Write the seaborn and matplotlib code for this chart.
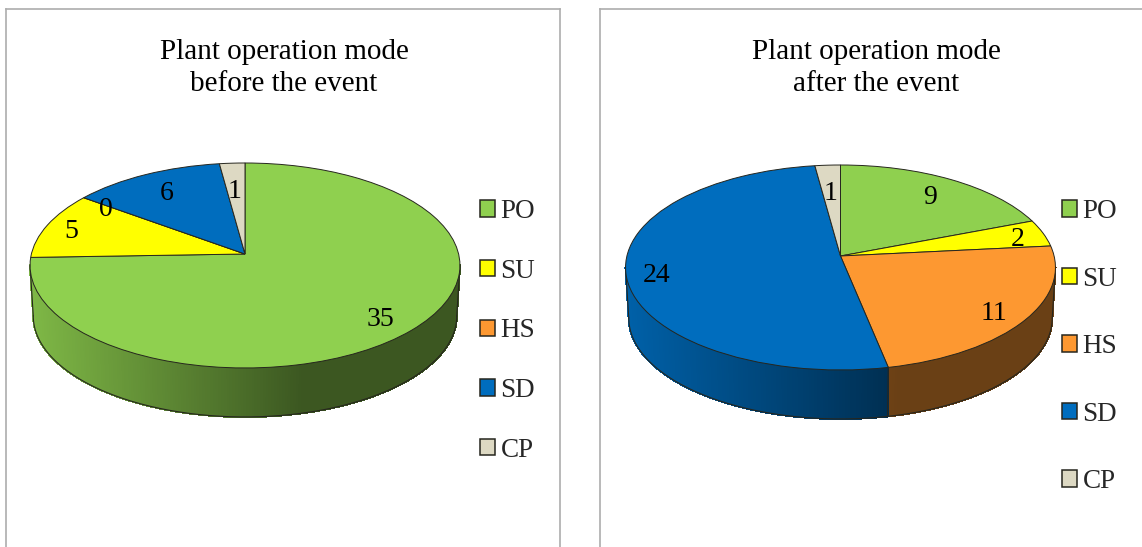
import numpy as np
import matplotlib
matplotlib.use("Agg")
import matplotlib.pyplot as plt
import matplotlib.transforms as mtransforms
from matplotlib.collections import PolyCollection
import seaborn as sns

modes = ["PO", "SU", "HS", "SD", "CP"]
before_event = [35, 5, 0, 6, 1]
after_event = [9, 2, 11, 24, 1]
title_before = "Plant operation mode\nbefore the event"
title_after = "Plant operation mode\nafter the event"
mode_hex = ["#8FD04F", "#FFFF00", "#FD9831", "#006DBE", "#DDD9C3"]

# Layout in pixels
FIG_W, FIG_H = 1142, 547
SCALE_X, SCALE_Y, TILT = 213.6, 101.2, 0.112
WALL_SHRINK, WALL_DROP = 0.985, 50.7
EDGE = "#26261E"
FRAME = "#ADADAD"
SERIF = "Liberation Serif"

sns.set_theme(style="white", rc={"font.family": SERIF})
palette = sns.color_palette(mode_hex)


class TiltedDisc(mtransforms.Transform):
    """Perspective view of a unit disc lying on a table."""
    input_dims = 2
    output_dims = 2

    def transform_non_affine(self, xy):
        xy = np.asarray(xy, dtype=float)
        w = 1 + TILT * xy[:, 1]
        return np.column_stack((SCALE_X * xy[:, 0] / w, SCALE_Y * xy[:, 1] / w))


def rim(phi):
    """Rim point of the top face, phi in degrees clockwise from twelve o'clock."""
    r = np.radians(phi)
    w = 1 + TILT * np.cos(r)
    return SCALE_X * np.sin(r) / w, SCALE_Y * np.cos(r) / w


def shade(x):
    t = (x + SCALE_X) / (2 * SCALE_X)
    return 0.88 - 0.46 * min(t / 0.63, 1.0)


def draw_wall(ax, values):
    """Extrude the front half of the pie, darkening towards the right."""
    left, right = 96.4, 263.6
    edges = np.cumsum([0] + list(values)) / sum(values) * 360
    polys, faces = [], []
    for i, colour in enumerate(palette):
        a, b = max(edges[i], left), min(edges[i + 1], right)
        if b <= a:
            continue
        phis = np.linspace(a, b, max(int((b - a) * 1.5), 2) + 1)
        for p0, p1 in zip(phis[:-1], phis[1:]):
            x0, y0 = rim(p0)
            x1, y1 = rim(p1)
            polys.append([(x0, y0), (x1, y1),
                          (x1 * WALL_SHRINK, y1 * WALL_SHRINK - WALL_DROP),
                          (x0 * WALL_SHRINK, y0 * WALL_SHRINK - WALL_DROP)])
            f = shade((x0 + x1) / 2)
            faces.append(tuple(c * f for c in colour))
    ax.add_collection(PolyCollection(polys, facecolors=faces, edgecolors=faces,
                                     linewidths=0.8, antialiaseds=False, zorder=1))
    phis = np.linspace(left, right, 200)
    x, y = rim(phis)
    ax.plot(x * WALL_SHRINK, y * WALL_SHRINK - WALL_DROP, color=EDGE, lw=0.8, zorder=2)
    cuts = [left, right] + [e for e in edges[1:-1] if left < e < right]
    for phi in cuts:
        x, y = rim(phi)
        ax.plot([x, x * WALL_SHRINK], [y, y * WALL_SHRINK - WALL_DROP],
                color=EDGE, lw=0.8, zorder=2)


def panel(box, apex, values, title, title_x, label_xy, legend_xy, legend_gap):
    l, t, r, b = box
    cx, cy = apex
    ax = plt.gcf().add_axes([l / FIG_W, 1 - b / FIG_H, (r - l) / FIG_W, (b - t) / FIG_H])
    wedges, _ = ax.pie(values, colors=palette, startangle=90, counterclock=False,
                       wedgeprops={"edgecolor": EDGE, "linewidth": 0.7, "zorder": 3})
    disc = TiltedDisc()
    for w in wedges:
        w.set_transform(disc + ax.transData)
    ax.set_frame_on(True)
    ax.set_aspect("auto")
    ax.set_xlim(l - cx, r - cx)
    ax.set_ylim(cy - b, cy - t)
    for s in ax.spines.values():
        s.set_color(FRAME)
        s.set_linewidth(1.2)

    draw_wall(ax, values)

    for v, (dx, dy) in zip(values, label_xy):
        ax.text(dx, dy, str(v), ha="center", va="center", fontsize=20,
                family=SERIF, color="black", zorder=5)

    ax.text(title_x - cx, cy - 68, title, ha="center", va="center", fontsize=21,
            family=SERIF, color="black", linespacing=1.31)

    legend = ax.legend(wedges, modes, loc="upper left",
                       bbox_to_anchor=(legend_xy[0] - cx, cy - legend_xy[1]),
                       bbox_transform=ax.transData, frameon=False, borderpad=0,
                       borderaxespad=0, prop={"family": SERIF, "size": 19.5},
                       handlelength=0.56, handleheight=0.56,
                       handletextpad=0.2, labelspacing=legend_gap)
    for handle in legend.legend_handles:
        handle.set_linewidth(1.1)
    return ax


fig = plt.figure(figsize=(FIG_W / 100, FIG_H / 100), dpi=100, facecolor="white")

panel((6, 9, 560, 575), (245, 254), before_event, title_before, 284,
      [(135, -66), (-174, 22), (-139, 45), (-78, 60), (-10, 63)],
      (480, 199), 1.28)
panel((600, 9, 1170, 575), (840.5, 256), after_event, title_after, 876,
      [(89.5, 58), (177, 17), (153.5, -57), (-183.5, -19), (-10, 63)],
      (1062, 199), 1.57)

fig.savefig("out.png", dpi=100)
